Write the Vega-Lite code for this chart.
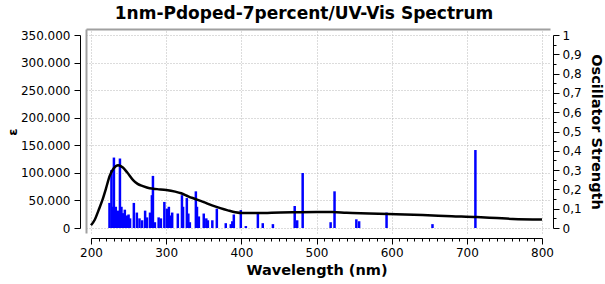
{
  "$schema": "https://vega.github.io/schema/vega-lite/v6.json",
  "width": 464,
  "height": 204,
  "autosize": {"type": "none"},
  "padding": {"left": 86, "top": 29, "right": 55, "bottom": 51},
  "background": "white",
  "config": {"view": {"stroke": null}, "font": "DejaVu Sans"},
  "title": {"text": "1nm-Pdoped-7percent/UV-Vis Spectrum", "font": "DejaVu Sans", "fontSize": 17, "fontWeight": "bold", "anchor": "middle", "dx": -14, "offset": 6, "color": "#000000"},
  "datasets": {
    "curve": [
      {"nm": 200, "eps": 5000}, {"nm": 205, "eps": 15000}, {"nm": 210, "eps": 32000}, {"nm": 215, "eps": 50000},
      {"nm": 220, "eps": 72000}, {"nm": 225, "eps": 95000}, {"nm": 230, "eps": 108000}, {"nm": 236, "eps": 114000},
      {"nm": 242, "eps": 110000}, {"nm": 248, "eps": 101000}, {"nm": 256, "eps": 87000}, {"nm": 262, "eps": 80000},
      {"nm": 269, "eps": 76000}, {"nm": 278, "eps": 72000}, {"nm": 288, "eps": 70500}, {"nm": 300, "eps": 69000},
      {"nm": 312, "eps": 66000}, {"nm": 320, "eps": 63000}, {"nm": 330, "eps": 57000}, {"nm": 338, "eps": 53000},
      {"nm": 350, "eps": 47000}, {"nm": 361, "eps": 41000}, {"nm": 372, "eps": 36000}, {"nm": 382, "eps": 32000},
      {"nm": 392, "eps": 28500}, {"nm": 402, "eps": 27000}, {"nm": 420, "eps": 27000}, {"nm": 440, "eps": 27500},
      {"nm": 468, "eps": 28500}, {"nm": 500, "eps": 29000}, {"nm": 521, "eps": 29000}, {"nm": 540, "eps": 27500},
      {"nm": 570, "eps": 26500}, {"nm": 606, "eps": 25000}, {"nm": 641, "eps": 23500}, {"nm": 680, "eps": 21500},
      {"nm": 713, "eps": 20000}, {"nm": 740, "eps": 18000}, {"nm": 761, "eps": 16500}, {"nm": 800, "eps": 15500}
    ],
    "bars": [
      {"nm": 224.6, "f": 0.13}, {"nm": 227.2, "f": 0.30}, {"nm": 229.0, "f": 0.11}, {"nm": 230.5, "f": 0.365},
      {"nm": 233.0, "f": 0.11}, {"nm": 236.0, "f": 0.09}, {"nm": 238.5, "f": 0.36}, {"nm": 240.5, "f": 0.11},
      {"nm": 242.5, "f": 0.077}, {"nm": 245.0, "f": 0.095}, {"nm": 248.0, "f": 0.065}, {"nm": 250.0, "f": 0.07},
      {"nm": 252.0, "f": 0.05}, {"nm": 257.0, "f": 0.13}, {"nm": 261.0, "f": 0.08}, {"nm": 264.5, "f": 0.05},
      {"nm": 268.0, "f": 0.04}, {"nm": 272.0, "f": 0.09}, {"nm": 274.5, "f": 0.055}, {"nm": 278.5, "f": 0.08},
      {"nm": 281.0, "f": 0.17}, {"nm": 282.4, "f": 0.27}, {"nm": 285.0, "f": 0.03}, {"nm": 290.0, "f": 0.055},
      {"nm": 293.0, "f": 0.05}, {"nm": 297.6, "f": 0.135}, {"nm": 301.0, "f": 0.10}, {"nm": 303.6, "f": 0.11},
      {"nm": 306.0, "f": 0.065}, {"nm": 308.0, "f": 0.08}, {"nm": 315.5, "f": 0.075}, {"nm": 321.0, "f": 0.17},
      {"nm": 322.5, "f": 0.11}, {"nm": 327.5, "f": 0.155}, {"nm": 329.5, "f": 0.075}, {"nm": 331.5, "f": 0.03},
      {"nm": 339.5, "f": 0.19}, {"nm": 341.0, "f": 0.11}, {"nm": 343.5, "f": 0.06}, {"nm": 350.0, "f": 0.075},
      {"nm": 353.4, "f": 0.05}, {"nm": 355.5, "f": 0.04}, {"nm": 361.4, "f": 0.04}, {"nm": 367.4, "f": 0.10},
      {"nm": 379.3, "f": 0.025}, {"nm": 386.0, "f": 0.02}, {"nm": 388.0, "f": 0.035}, {"nm": 390.0, "f": 0.07},
      {"nm": 399.3, "f": 0.093}, {"nm": 406.0, "f": 0.01}, {"nm": 422.0, "f": 0.077}, {"nm": 428.5, "f": 0.025},
      {"nm": 442.0, "f": 0.02}, {"nm": 471.0, "f": 0.114}, {"nm": 474.3, "f": 0.04}, {"nm": 481.6, "f": 0.285},
      {"nm": 518.8, "f": 0.03}, {"nm": 524.0, "f": 0.19}, {"nm": 553.0, "f": 0.045}, {"nm": 556.7, "f": 0.035},
      {"nm": 593.2, "f": 0.08}, {"nm": 654.3, "f": 0.02}, {"nm": 711.4, "f": 0.404}
    ]
  },
  "layer": [
    {
      "data": {"name": "curve"},
      "mark": {"type": "line", "opacity": 0},
      "encoding": {
        "x": {"field": "nm", "type": "quantitative",
              "scale": {"domain": [193.35, 810.6], "nice": false, "zero": false},
              "axis": {"orient": "top", "title": null, "labels": false, "ticks": false, "domainColor": "#a0a0a0", "domainWidth": 2,
                       "values": [200, 300, 400, 500, 600, 700, 800], "grid": true, "gridColor": "#b8b8b8", "gridDash": [1, 2], "gridWidth": 1}},
        "y": {"field": "eps", "type": "quantitative",
              "scale": {"domain": [-9067, 360881], "nice": false, "zero": false},
              "axis": {"orient": "left", "title": null, "labels": false, "ticks": false, "domainColor": "#a0a0a0", "domainWidth": 2,
                       "values": [0, 50000, 100000, 150000, 200000, 250000, 300000, 350000], "grid": true, "gridColor": "#b8b8b8", "gridDash": [1, 2], "gridWidth": 1}}
      }
    },
    {
      "data": {"name": "bars"},
      "mark": {"type": "rule", "color": "#0000ff", "strokeWidth": 2.5},
      "encoding": {
        "x": {"field": "nm", "type": "quantitative",
              "scale": {"domain": [200, 800], "range": [5, 456], "nice": false, "zero": false},
              "axis": {"orient": "bottom", "offset": 5, "title": "Wavelength (nm)", "titleFont": "DejaVu Sans", "titleFontSize": 14.5, "titleFontWeight": "bold", "titleColor": "#000000",
                       "values": [200,210,220,230,240,250,260,270,280,290,300,310,320,330,340,350,360,370,380,390,400,410,420,430,440,450,460,470,480,490,500,510,520,530,540,550,560,570,580,590,600,610,620,630,640,650,660,670,680,690,700,710,720,730,740,750,760,770,780,790,800],
                       "labelExpr": "datum.value % 100 === 0 ? datum.label : ''",
                       "tickSize": {"condition": {"test": "datum.value % 100 === 0", "value": 6}, "value": 3},
                       "grid": false, "domainColor": "#000000", "tickColor": "#000000", "labelColor": "#000000", "labelFontSize": 12, "labelFont": "DejaVu Sans", "labelPadding": 3, "labelFlush": false, "labelOverlap": false, "titlePadding": 5}},
        "y": {"field": "f", "type": "quantitative",
              "scale": {"domain": [0, 1], "range": [199, 6], "nice": false, "zero": false},
              "axis": {"orient": "right", "offset": 3, "title": "Oscillator Strength", "titleFont": "DejaVu Sans", "titleFontSize": 14.5, "titleFontWeight": "bold", "titleColor": "#000000",
                       "values": [0,0.05,0.1,0.15,0.2,0.25,0.3,0.35,0.4,0.45,0.5,0.55,0.6,0.65,0.7,0.75,0.8,0.85,0.9,0.95,1],
                       "labelExpr": "datum.value === 0 ? '0' : datum.value === 1 ? '1' : (abs(datum.value*10 - round(datum.value*10)) < 0.000001 ? replace(format(datum.value, '.1f'), '.', ',') : '')",
                       "tickSize": {"condition": {"test": "abs(datum.value*10 - round(datum.value*10)) < 0.000001", "value": 6}, "value": 3},
                       "grid": false, "domainColor": "#000000", "tickColor": "#000000", "labelColor": "#000000", "labelFontSize": 12, "labelFont": "DejaVu Sans", "labelPadding": 3, "labelFlush": false, "labelOverlap": false, "titlePadding": 7}},
        "y2": {"datum": 0}
      }
    },
    {
      "data": {"name": "curve"},
      "mark": {"type": "line", "color": "#000000", "strokeWidth": 2.5, "interpolate": "monotone"},
      "encoding": {
        "x": {"field": "nm", "type": "quantitative",
              "scale": {"domain": [200, 800], "range": [5, 456], "nice": false, "zero": false},
              "axis": null},
        "y": {"field": "eps", "type": "quantitative",
              "scale": {"domain": [0, 350000], "range": [199, 6], "nice": false, "zero": false},
              "axis": {"orient": "left", "offset": 6, "title": "ε", "titleFont": "DejaVu Sans", "titleFontSize": 13, "titleFontWeight": "bold", "titleColor": "#000000",
                       "values": [0, 50000, 100000, 150000, 200000, 250000, 300000, 350000],
                       "labelExpr": "replace(format(datum.value, ','), ',', '.')",
                       "tickSize": 6, "grid": false, "domainColor": "#000000", "tickColor": "#000000", "labelColor": "#000000", "labelFontSize": 12, "labelFont": "DejaVu Sans", "labelPadding": 4, "labelFlush": false, "labelOverlap": false, "titlePadding": 1}}
      }
    }
  ],
  "resolve": {"scale": {"x": "independent", "y": "independent"}, "axis": {"x": "independent", "y": "independent"}}
}
